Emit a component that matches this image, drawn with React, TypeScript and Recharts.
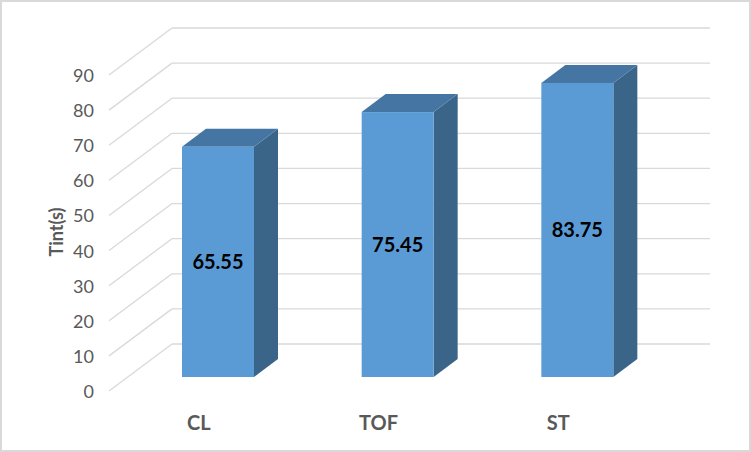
import React from 'react';
import { BarChart, Bar, XAxis, YAxis, CartesianGrid, LabelList, Label } from 'recharts';

const categories = ['CL', 'TOF', 'ST'];
const values = [65.55, 75.45, 83.75];
const yTicks = [0, 10, 20, 30, 40, 50, 60, 70, 80, 90];

const data = categories.map((c, i) => ({ name: c, value: values[i] }));

const W = 751;
const H = 452;
// 3D offsets
const BAR_DX = 24;
const BAR_DY = 18;
const BACK_DX = 44;
const BACK_DY = -33;
const FRONT_DX = -19;
const FRONT_DY = 14;

const FRONT = '#5B9BD5';
const TOP = '#4575A3';
const SIDE = '#3B6489';
const GRID = '#D9D9D9';
const TEXT = '#595959';
const FONT = 'Lato, "Open Sans", sans-serif';

const Bar3D = (props: any) => {
  const { x, y, width, height } = props;
  if (width == null || height == null) return null;
  const top = `${x},${y} ${x + BAR_DX},${y - BAR_DY} ${x + width + BAR_DX},${y - BAR_DY} ${x + width},${y}`;
  const side = `${x + width},${y} ${x + width + BAR_DX},${y - BAR_DY} ${x + width + BAR_DX},${y + height - BAR_DY} ${x + width},${y + height}`;
  return (
    <g>
      <polygon points={side} fill={SIDE} />
      <polygon points={top} fill={TOP} />
      <rect x={x} y={y} width={width} height={height} fill={FRONT} />
    </g>
  );
};

const gridLine = (props: any) => {
  const { x1, x2, y1, index } = props;
  return (
    <g key={`g-${index}-${y1}`}>
      <line x1={x1 + FRONT_DX} y1={y1 + FRONT_DY} x2={x1 + BACK_DX} y2={y1 + BACK_DY} stroke={GRID} strokeWidth={1.3} />
      <line x1={x1 + BACK_DX} y1={y1 + BACK_DY} x2={x2 + BACK_DX - 1} y2={y1 + BACK_DY} stroke={GRID} strokeWidth={1.3} />
    </g>
  );
};

const YTick = (props: any) => {
  const { x, y, payload } = props;
  return (
    <text x={x - 34} y={y + FRONT_DY} textAnchor="end" dominantBaseline="central" fill={TEXT} fontSize={18} fontFamily={FONT}>
      {payload.value}
    </text>
  );
};

const XTick = (props: any) => {
  const { x, y, payload } = props;
  return (
    <text x={x + FRONT_DX} y={y + 45} textAnchor="middle" dominantBaseline="central" fill={TEXT} fontSize={20} fontWeight="bold" fontFamily={FONT}>
      {payload.value}
    </text>
  );
};

export default function App() {
  return (
    <div style={{ position: 'absolute', left: 0, top: 0, width: W, height: H, background: '#fff' }}>
      <BarChart width={W} height={H} data={data} margin={{ top: 61, right: 84, bottom: 45, left: 68 }}>
        <CartesianGrid vertical={false} horizontal={gridLine} />
        <XAxis dataKey="name" axisLine={false} tickLine={false} tickSize={0} tickMargin={0} height={30} tick={<XTick />} interval={0} />
        <YAxis
          domain={[0, 90]}
          ticks={yTicks}
          axisLine={false}
          tickLine={false}
          tickSize={0}
          tickMargin={0}
          width={60}
          tick={<YTick />}
          interval={0}
        >
          <Label
            content={() => (
              <text x={56} y={232} transform="rotate(-90 56 232)" textAnchor="middle" dominantBaseline="central" fill={TEXT} fontSize={18} fontWeight="bold" fontFamily={FONT}>
                Tint(s)
              </text>
            )}
          />
        </YAxis>
        <Bar dataKey="value" barSize={72} shape={<Bar3D />} isAnimationActive={false}>
          <LabelList dataKey="value" position="center" fill="#000" fontSize={20} fontWeight="bold" fontFamily={FONT} formatter={(v: any) => Number(v).toFixed(2)} />
        </Bar>
      </BarChart>
      <div style={{ position: 'absolute', left: 0, top: 0, width: W, height: H, boxSizing: 'border-box', border: '2px solid #D9D9D9', pointerEvents: 'none' }} />
    </div>
  );
}
